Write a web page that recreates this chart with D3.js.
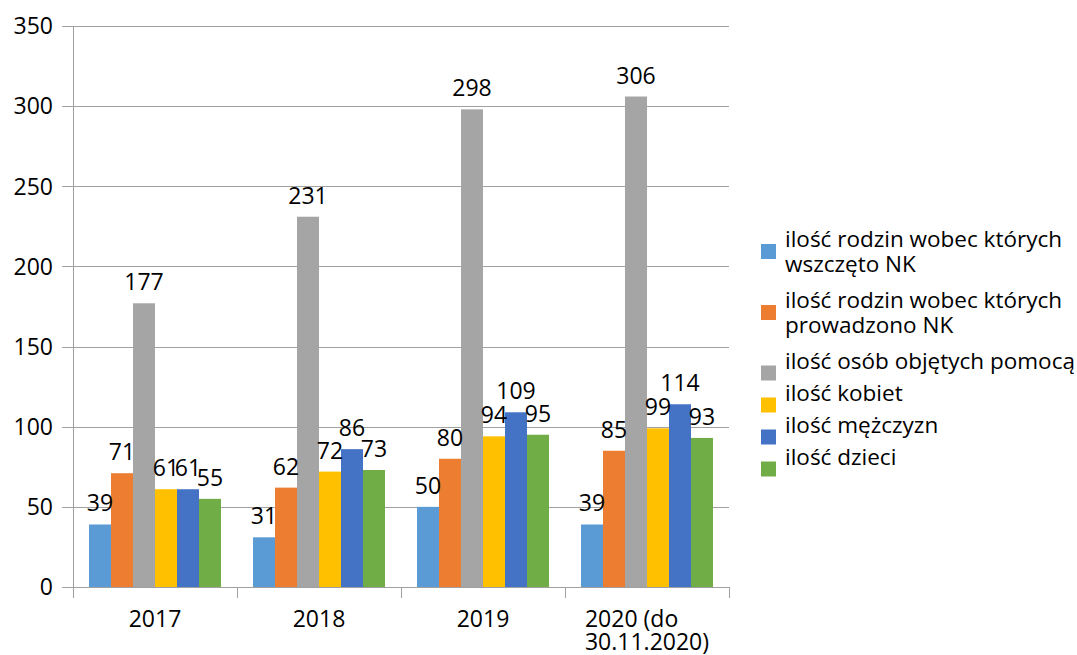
<!DOCTYPE html>
<html><head><meta charset="utf-8">
<script src="https://cdn.jsdelivr.net/npm/d3@7"></script>
<style>body{margin:0;background:#fff}svg{display:block}text{font-family:"Open Sans",sans-serif;fill:#000}</style>
</head><body>
<svg id="c" width="1077" height="655"></svg>
<script>
const categories = [["2017"], ["2018"], ["2019"], ["2020 (do", "30.11.2020)"]];
const seriesNames = [
  ["ilość rodzin wobec których", "wszczęto NK"],
  ["ilość rodzin wobec których", "prowadzono NK"],
  ["ilość osób objętych pomocą"],
  ["ilość kobiet"],
  ["ilość mężczyzn"],
  ["ilość dzieci"]
];
const wszczeto = [39, 31, 50, 39];
const prowadzono = [71, 62, 80, 85];
const osoby = [177, 231, 298, 306];
const kobiety = [61, 72, 94, 99];
const mezczyzni = [61, 86, 109, 114];
const dzieci = [55, 73, 95, 93];
const yTicks = [0, 50, 100, 150, 200, 250, 300, 350];
const colors = ["#5B9BD5", "#ED7D31", "#A5A5A5", "#FFC000", "#4472C4", "#70AD47"];

const series = [wszczeto, prowadzono, osoby, kobiety, mezczyzni, dzieci];
const svg = d3.select("#c");
const FS = 23;
const LFS = 22.5;
const catKeys = categories.map(c => c.join(" "));
const x0 = d3.scaleBand().domain(catKeys).range([73, 729]).padding(0);
const bw = x0.bandwidth();
const x1 = d3.scaleBand().domain(d3.range(series.length)).range([16, bw - 16]).padding(0);
const y = d3.scaleLinear().domain([0, 350]).range([587, 26]);

// gridlines
svg.append("g").selectAll("line").data(yTicks).join("line")
  .attr("x1", 62).attr("x2", 729)
  .attr("y1", d => Math.round(y(d)) + 0.5).attr("y2", d => Math.round(y(d)) + 0.5)
  .attr("stroke", "#a0a0a0").attr("stroke-width", 1);
// y axis line
svg.append("line").attr("x1", 73.5).attr("x2", 73.5).attr("y1", y(350)).attr("y2", y(0))
  .attr("stroke", "#a0a0a0");
// x category ticks
const bounds = catKeys.map(k => x0(k)).concat([x0.range()[1]]);
svg.append("g").selectAll("line").data(bounds).join("line")
  .attr("x1", d => Math.round(d) + 0.5).attr("x2", d => Math.round(d) + 0.5)
  .attr("y1", y(0)).attr("y2", y(0) + 11).attr("stroke", "#a0a0a0");
// y labels
svg.append("g").selectAll("text").data(yTicks).join("text")
  .attr("x", 53).attr("y", d => y(d)).attr("dy", "0.36em")
  .attr("text-anchor", "end").attr("font-size", FS).text(d => d);

// bars
const groups = svg.append("g").selectAll("g").data(catKeys).join("g")
  .attr("transform", k => `translate(${x0(k)},0)`);
groups.each(function(k, ci) {
  const g = d3.select(this);
  series.forEach((s, si) => {
    const v = s[ci];
    g.append("rect").attr("x", x1(si)).attr("width", x1.bandwidth())
      .attr("y", y(v)).attr("height", y(0) - y(v)).attr("fill", colors[si]);
  });
  series.forEach((s, si) => {
    const v = s[ci];
    g.append("text").attr("x", x1(si) + x1.bandwidth() / 2).attr("y", y(v) - 13)
      .attr("text-anchor", "middle").attr("font-size", FS).text(v);
  });
});

// x labels
categories.forEach((lines, ci) => {
  const cx = x0(catKeys[ci]) + bw / 2;
  const widths = lines.map(l => {
    const s = svg.append("text").attr("font-size", FS).text(l);
    const w = s.node().getComputedTextLength(); s.remove(); return w;
  });
  const maxW = d3.max(widths);
  const t = svg.append("text").attr("font-size", FS)
    .attr("text-anchor", lines.length > 1 ? "start" : "middle");
  lines.forEach((l, li) => {
    t.append("tspan").attr("x", lines.length > 1 ? cx - maxW / 2 : cx)
      .attr("y", 619 + li * 23).attr("dy", "0.36em").text(l);
  });
});

// legend
let cy = 239;
const LH = 25;
seriesNames.forEach((lines, i) => {
  const n = lines.length;
  const sqC = cy + (n - 1) * LH / 2 + (n === 1 ? 12 : 0);
  svg.append("rect").attr("x", 761).attr("y", sqC - 7.5).attr("width", 15).attr("height", 15)
    .attr("fill", colors[i]);
  const t = svg.append("text").attr("font-size", LFS);
  lines.forEach((l, li) => {
    t.append("tspan").attr("x", 785).attr("y", cy + li * LH).attr("dy", "0.36em").text(l);
  });
  cy += (n - 1) * LH + (n > 1 ? 36 : 32);
});
</script>
</body></html>
